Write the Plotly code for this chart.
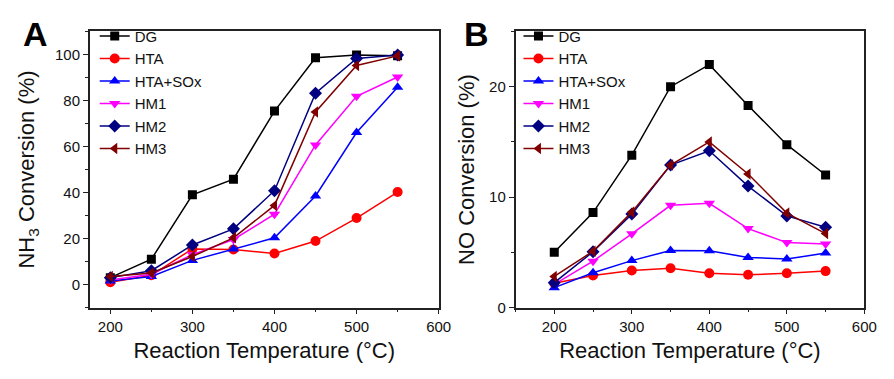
import plotly.graph_objects as go

temps = [200, 250, 300, 350, 400, 450, 500, 550]
series_names = ["DG", "HTA", "HTA+SOx", "HM1", "HM2", "HM3"]

# Panel A: NH3 conversion (%)
nh3_DG = [3, 11, 39, 45.8, 75.4, 98.6, 99.8, 99.5]
nh3_HTA = [1, 4, 15.5, 15.2, 13.5, 18.9, 28.9, 40.2]
nh3_HTASOx = [1.5, 3.5, 10.5, 15.4, 20.3, 38.5, 66.1, 85.8]
nh3_HM1 = [2, 4.5, 13, 19.6, 30.6, 60.7, 81.8, 90.2]
nh3_HM2 = [3, 6, 17.2, 24.2, 40.8, 83.2, 98.3, 99.8]
nh3_HM3 = [3.5, 5, 12.2, 20.3, 34.4, 75, 95.2, 99.4]

# Panel B: NO conversion (%)
no_DG = [5.0, 8.6, 13.8, 20.0, 22.0, 18.3, 14.75, 12.0]
no_HTA = [2.2, 2.9, 3.35, 3.56, 3.1, 2.97, 3.1, 3.3]
no_HTASOx = [1.8, 3.15, 4.25, 5.17, 5.14, 4.54, 4.39, 4.93]
no_HM1 = [2.1, 4.2, 6.68, 9.26, 9.44, 7.15, 5.88, 5.76]
no_HM2 = [2.25, 5.05, 8.46, 12.9, 14.2, 11.0, 8.3, 7.27]
no_HM3 = [2.82, 5.1, 8.64, 12.9, 15.0, 12.1, 8.55, 6.7]

nh3_data = [nh3_DG, nh3_HTA, nh3_HTASOx, nh3_HM1, nh3_HM2, nh3_HM3]
no_data = [no_DG, no_HTA, no_HTASOx, no_HM1, no_HM2, no_HM3]

colors = ["#000000", "#ff0000", "#0000ff", "#ff00ff", "#000080", "#800000"]
symbols = ["square", "circle", "triangle-up", "triangle-down", "diamond", "triangle-left"]
msizes = [9, 10, 10, 10, 10, 10]

FONT = "Liberation Sans, Arial, sans-serif"

fig = go.Figure()
for i, name in enumerate(series_names):
    fig.add_trace(go.Scatter(
        x=temps, y=nh3_data[i], name=name, mode="lines+markers",
        line=dict(color=colors[i], width=1.5),
        marker=dict(symbol=symbols[i], size=msizes[i], color=colors[i]),
        xaxis="x", yaxis="y", legend="legend"))
for i, name in enumerate(series_names):
    fig.add_trace(go.Scatter(
        x=temps, y=no_data[i], name=name, mode="lines+markers",
        line=dict(color=colors[i], width=1.5),
        marker=dict(symbol=symbols[i], size=msizes[i], color=colors[i]),
        xaxis="x2", yaxis="y2", legend="legend2"))

axis_common = dict(
    showline=True, linecolor="#222", linewidth=1.5, mirror=True,
    ticks="outside", ticklen=5, tickwidth=1.2, tickcolor="#222",
    showgrid=False, zeroline=False,
    tickfont=dict(family=FONT, size=15, color="#111"),
)
ydom = [73 / 379, 355 / 379]

fig.update_layout(
    width=894, height=379,
    margin=dict(l=0, r=0, t=0, b=0),
    paper_bgcolor="white", plot_bgcolor="white",
    font=dict(family=FONT, color="#111"),
    xaxis=dict(domain=[83 / 894, 437 / 894], range=[175, 600], anchor="y",
               tickvals=[200, 300, 400, 500, 600],
               minor=dict(dtick=50, tick0=0, ticks="outside", ticklen=3, tickcolor="#222"),
               title=dict(text="Reaction Temperature (°C)", font=dict(size=22, family=FONT), standoff=8),
               **axis_common),
    yaxis=dict(domain=ydom, range=[-10, 110], anchor="x",
               tickvals=[0, 20, 40, 60, 80, 100],
               minor=dict(dtick=10, tick0=0, ticks="outside", ticklen=3, tickcolor="#222"),
               title=dict(text="NH<sub>3</sub> Conversion (%)", font=dict(size=22, family=FONT), standoff=14),
               **axis_common),
    xaxis2=dict(domain=[515 / 894, 869 / 894], range=[150, 600], anchor="y2",
                tickvals=[200, 300, 400, 500, 600],
                minor=dict(dtick=50, tick0=0, ticks="outside", ticklen=3, tickcolor="#222"),
                title=dict(text="Reaction Temperature (°C)", font=dict(size=22, family=FONT), standoff=8),
                **axis_common),
    yaxis2=dict(domain=ydom, range=[0, 25], anchor="x2",
                tickvals=[0, 10, 20],
                minor=dict(dtick=5, tick0=0, ticks="outside", ticklen=3, tickcolor="#222"),
                title=dict(text="NO Conversion (%)", font=dict(size=22, family=FONT), standoff=8),
                **axis_common),
    legend=dict(x=88 / 894, y=367 / 379, xanchor="left", yanchor="top",
                bgcolor="rgba(0,0,0,0)", font=dict(size=15, family=FONT, color="#111"),
                itemwidth=30, tracegroupgap=0),
    legend2=dict(x=518 / 894, y=367 / 379, xanchor="left", yanchor="top",
                 bgcolor="rgba(0,0,0,0)", font=dict(size=15, family=FONT, color="#111"),
                 itemwidth=30, tracegroupgap=0),
    annotations=[
        dict(text="<b>A</b>", x=28 / 894, y=352 / 379, xref="paper", yref="paper",
             xanchor="center", yanchor="middle", showarrow=False,
             font=dict(size=34, family=FONT, color="#000")),
        dict(text="<b>B</b>", x=475 / 894, y=352 / 379, xref="paper", yref="paper",
             xanchor="center", yanchor="middle", showarrow=False,
             font=dict(size=34, family=FONT, color="#000")),
    ],
)

fig.write_html("out.html")
